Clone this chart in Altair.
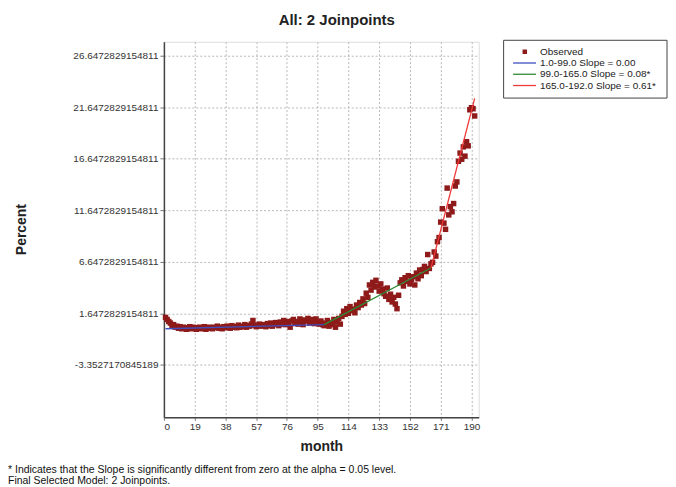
import altair as alt
import pandas as pd

months = list(range(1, 193))
observed = [
    1.25, 1.05, 0.85, 0.70, 0.45, 0.55, 0.30, 0.40, 0.20, 0.35,
    0.15, 0.30, 0.20, 0.10, 0.25, 0.35, 0.15, 0.30, 0.20, 0.10,
    0.25, 0.30, 0.15, 0.20, 0.35, 0.10, 0.25, 0.30, 0.20, 0.15,
    0.30, 0.25, 0.40, 0.20, 0.30, 0.15, 0.35, 0.25, 0.40, 0.30,
    0.20, 0.45, 0.30, 0.35, 0.25, 0.50, 0.30, 0.40, 0.35, 0.55,
    0.30, 0.45, 0.40, 0.60, 0.95, 0.50, 0.35, 0.45, 0.60, 0.40,
    0.55, 0.50, 0.35, 0.65, 0.45, 0.70, 0.40, 0.55, 0.75, 0.60,
    0.45, 0.80, 0.60, 0.95, 0.55, 0.85, 0.70, 0.30, 0.90, 1.05,
    0.65, 0.85, 0.60, 1.10, 0.80, 0.55, 1.00, 0.90, 1.15, 0.70,
    0.95, 1.05, 0.65, 1.10, 0.75, 0.60, 0.90, 0.55, 0.45, 0.70,
    0.95, 0.40, 0.75, 0.55, 1.05, 0.30, 0.80, 1.15, 0.60, 1.35,
    1.85, 1.55, 2.10, 1.65, 2.30, 1.90, 2.05, 1.70, 2.45, 2.20,
    2.70, 2.45, 3.05, 2.60, 3.60, 3.20, 4.40, 3.90, 4.65, 4.20,
    4.85, 4.30, 3.80, 4.50, 4.00, 3.55, 3.30, 4.10, 3.00, 3.50,
    2.75, 3.20, 2.55, 2.10, 3.40, 4.60, 4.90, 4.30, 5.10, 4.75,
    5.30, 4.50, 4.95, 5.20, 4.40, 5.55, 5.00, 5.85, 5.30, 5.90,
    6.20, 5.70, 7.35, 6.00, 6.45, 6.60, 7.60, 7.20, 8.60, 9.00,
    10.50, 11.80, 10.40, 9.80, 13.80, 11.20, 12.00, 11.50, 12.30, 14.00,
    14.40, 16.40, 17.20, 16.60, 17.80, 16.90, 18.30, 17.90, 21.40, 21.60,
    21.50, 20.80,
]

fit_labels = ["1.0-99.0 Slope  = 0.00", "99.0-165.0 Slope  = 0.08*", "165.0-192.0 Slope  = 0.61*"]
fit_start_month = [1, 99, 165]
fit_end_month = [99, 165, 192]
fit_start_value = [0.15, 0.55, 6.05]
fit_end_value = [0.55, 6.05, 22.5]

series_names = ["Observed"] + fit_labels
series_colors = ["#8E1A1A", "#3F4FC0", "#2F8A35", "#F03A3A"]
legend_shapes = [
    "M1.5,-0.45H2.4V0.45H1.5Z",
    "M-0.4,-0.13H4.2V0.13H-0.4Z",
    "M-0.4,-0.13H4.2V0.13H-0.4Z",
    "M-0.4,-0.13H4.2V0.13H-0.4Z",
]

x_ticks = [0, 19, 38, 57, 76, 95, 114, 133, 152, 171, 190]
y_ticks = [-3.3527170845189, 1.6472829154811, 6.6472829154811, 11.6472829154811,
           16.6472829154811, 21.6472829154811, 26.6472829154811]

title_text = "All: 2 Joinpoints"
x_title = "month"
y_title = "Percent"
footnote = ("* Indicates that the Slope is significantly different from zero at the alpha = 0.05 level.\n"
            "Final Selected Model: 2 Joinpoints.")

obs_df = pd.DataFrame({"month": months, "value": observed, "series": "Observed"})
fit_rows = []
for lab, m0, m1, v0, v1 in zip(fit_labels, fit_start_month, fit_end_month, fit_start_value, fit_end_value):
    fit_rows.append({"month": m0, "value": v0, "series": lab})
    fit_rows.append({"month": m1, "value": v1, "series": lab})
fit_df = pd.DataFrame(fit_rows)

x_enc = alt.X("month:Q", scale=alt.Scale(domain=[0, 194.5], nice=False, zero=False),
              axis=alt.Axis(values=x_ticks, title=x_title, grid=True, gridDash=[2, 2], gridColor="#b8b8b8",
                            labelFontSize=10, labelColor="#333", labelPadding=1, tickSize=3, tickColor="#777",
                            domainColor="#444", domainWidth=1.5, titleFontSize=14, titleFontWeight="bold",
                            titleColor="#222", titleBaseline="middle", titleY=29))
y_enc = alt.Y("value:Q", scale=alt.Scale(domain=[-8.45, 28.0], nice=False, zero=False),
              axis=alt.Axis(values=y_ticks, labelExpr="'' + datum.value", title=y_title, grid=True,
                            gridDash=[2, 2], gridColor="#b8b8b8", labelFontSize=10, labelColor="#333",
                            tickSize=4, tickColor="#777", labelPadding=2, domainColor="#444", domainWidth=1.5,
                            titleFontSize=14, titleFontWeight="bold", titleColor="#222",
                            titleBaseline="middle", titleX=-142.5, titleY=188))

color_scale = alt.Scale(domain=series_names, range=series_colors)
shape_scale = alt.Scale(domain=series_names, range=legend_shapes)
legend = alt.Legend(title=None, orient="none", legendX=340.5, legendY=-2, strokeColor="#444",
                    fillColor="white", padding=7, labelFontSize=10, labelColor="#222", labelOffset=20,
                    rowPadding=1.3, labelLimit=300, symbolSize=100, symbolStrokeWidth=0)

carrier = alt.Chart(obs_df).transform_filter("false").mark_point(filled=True, size=100, opacity=1).encode(
    x=x_enc, y=y_enc,
    color=alt.Color("series:N", scale=color_scale, legend=legend),
    shape=alt.Shape("series:N", scale=shape_scale, legend=legend),
)

points = alt.Chart(obs_df).mark_square(size=30, opacity=1).encode(
    x=x_enc, y=y_enc,
    color=alt.Color("series:N", scale=color_scale, legend=None),
)

lines = alt.Chart(fit_df).mark_line(strokeWidth=1.3).encode(
    x=x_enc, y=y_enc,
    color=alt.Color("series:N", scale=color_scale, legend=None),
    detail="series:N",
)

note = alt.Chart(pd.DataFrame({"text": [footnote]})).mark_text(
    align="left", baseline="top", fontSize=10.5, lineBreak="\n", lineHeight=11, color="#111"
).encode(x=alt.value(-156.5), y=alt.value(424.5), text="text:N")

chart = alt.layer(carrier, points, lines, note).properties(
    width=316, height=377,
    title=alt.Title(title_text, fontSize=15, fontWeight="bold", anchor="middle", dx=15.5, offset=11, color="#222"),
    autosize=alt.AutoSizeParams(type="none"),
    padding={"left": 156.5, "top": 33, "right": 190, "bottom": 69},
).configure_view(stroke="#555", strokeWidth=1.5).configure(font="Liberation Sans")

chart.save("out.html", embed_options={"renderer": "svg", "actions": False})
